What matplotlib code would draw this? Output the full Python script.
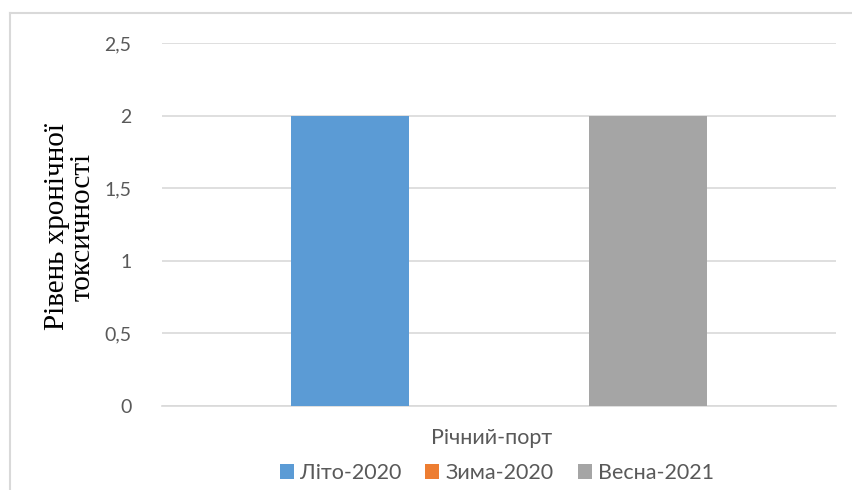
import numpy as np
import matplotlib.pyplot as plt

categories = ["Річний-порт"]
series_names = ["Літо-2020", "Зима-2020", "Весна-2021"]
series_values = [[2], [0], [2]]
colors = ["#5B9BD5", "#ED7D31", "#A5A5A5"]
yticks = [0, 0.5, 1, 1.5, 2, 2.5]
ytick_labels = ["0", "0,5", "1", "1,5", "2", "2,5"]

W, H = 853, 490
fig = plt.figure(figsize=(W / 100, H / 100), dpi=100)
ax = fig.add_axes([162 / W, 1 - 406 / H, (836 - 162) / W, (406 - 43) / H])

# chart frame (left and top edges only)
fig.add_artist(plt.Line2D([9.5 / W, 9.5 / W], [0, 1 - 13.5 / H], transform=fig.transFigure,
                          color="#d9d9d9", lw=1.5))
fig.add_artist(plt.Line2D([9.5 / W, 1], [1 - 13.5 / H, 1 - 13.5 / H], transform=fig.transFigure,
                          color="#d9d9d9", lw=1.5))

x = np.arange(len(categories))
step = 0.221
width = 0.175
for i, (name, vals) in enumerate(zip(series_names, series_values)):
    ax.bar(x + (i - 1) * step, vals, width=width, color=colors[i], label=name, zorder=3)

ax.set_xlim(-0.5, 0.5)
ax.set_ylim(0, 2.5)
ax.set_yticks(yticks)
ax.set_yticklabels(ytick_labels, fontsize=14, color="#595959", family="Lato")
ax.yaxis.grid(True, color="#d9d9d9", lw=1.2, zorder=0)
ax.tick_params(axis="y", length=0, pad=22)
ax.set_xticks([])
for s in ["left", "right", "top"]:
    ax.spines[s].set_visible(False)
ax.spines["bottom"].set_color("#d9d9d9")
ax.spines["bottom"].set_linewidth(1.2)

# category name under the axis
fig.text(492 / W, 1 - 438 / H, categories[0], ha="center", va="center",
         fontsize=15.5, color="#595959", family="Lato")

fig.text(70 / W, 1 - 227 / H, "Рівень хронічної\nтоксичності", rotation=90,
         ha="center", va="center", family="Liberation Serif", fontsize=21,
         linespacing=0.95, color="black")

leg = fig.legend(loc="center", bbox_to_anchor=(497 / W, 1 - 473 / H), ncol=3,
                 frameon=False, prop={"family": "Lato", "size": 15.5},
                 handlelength=0.65, handleheight=0.65, handletextpad=0.3,
                 columnspacing=1.1)
for t in leg.get_texts():
    t.set_color("#595959")

fig.savefig("out.png", dpi=100)
